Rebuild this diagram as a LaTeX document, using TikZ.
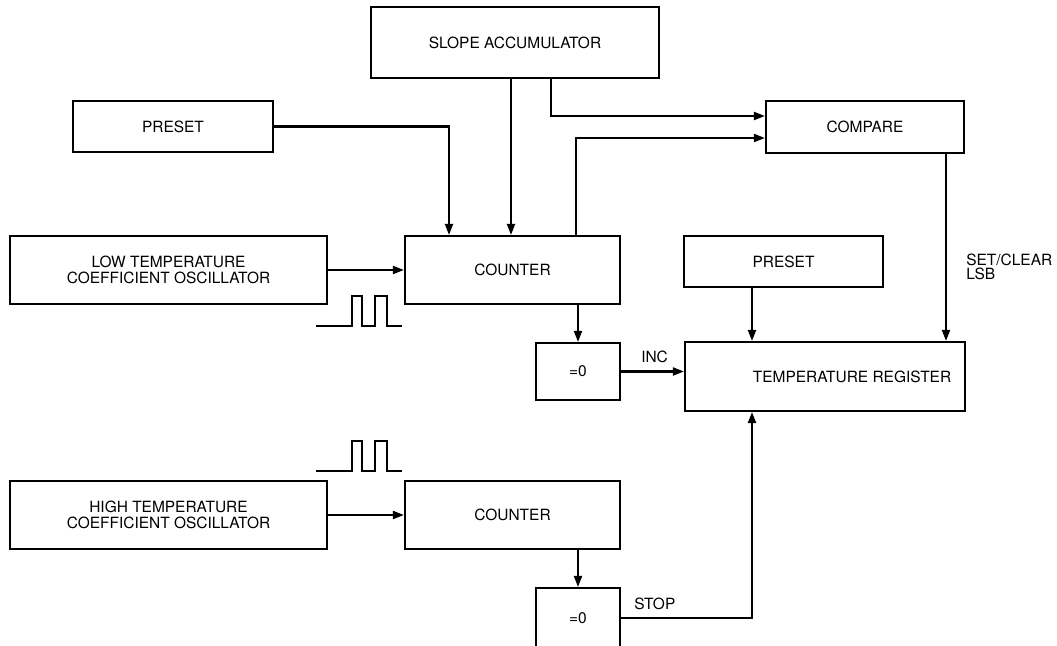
\documentclass[tikz,border=0pt]{standalone}
\usepackage{fontspec}
\setmainfont{TeX Gyre Heros}
\usetikzlibrary{arrows.meta,calc}
\tikzset{
 block/.style={draw,line width=1.4pt,inner sep=0,align=center,font=\fontsize{11}{11.5}\selectfont},
 wire/.style={line width=1.6pt,-{Triangle[length=2.8mm,width=2mm]}},
 pulse/.style={line width=.8pt},
 tag/.style={inner sep=0,font=\fontsize{11}{9.5}\selectfont,align=left}
}
\begin{document}
\begin{tikzpicture}[x=0.025cm,y=-0.025cm]
\path[use as bounding box] (0,0) rectangle (1057,645);
% blocks
\node[block,minimum width=7.2cm,minimum height=1.775cm] (slope) at (515,42.5) {SLOPE ACCUMULATOR};
\node[block,minimum width=5cm,minimum height=1.275cm] (preA) at (173,126.5) {PRESET};
\node[block,minimum width=4.95cm,minimum height=1.3cm] (cmp) at (865,127) {COMPARE};
\node[block,minimum width=7.925cm,minimum height=1.7cm] (oscL) at (168.5,270) {LOW TEMPERATURE\\COEFFICIENT OSCILLATOR};
\node[block,minimum width=5.375cm,minimum height=1.7cm] (cntA) at (512.5,270) {COUNTER};
\node[block,minimum width=4.975cm,minimum height=1.275cm] (preB) at (783.5,261.5) {PRESET};
\node[block,minimum width=2.1cm,minimum height=1.425cm] (zeroA) at (578,371.5) {=0};
\node[block,minimum width=7cm,minimum height=1.725cm] (reg) at (825,376.5) {};
\node[block,draw=none] (regtext) at ($(reg.center)+(27,0)$) {TEMPERATURE REGISTER};
\node[block,minimum width=7.925cm,minimum height=1.7cm] (oscH) at (168.5,515) {HIGH TEMPERATURE\\COEFFICIENT OSCILLATOR};
\node[block,minimum width=5.375cm,minimum height=1.7cm] (cntB) at (512.5,515) {COUNTER};
\node[block,minimum width=2.1cm,minimum height=1.5cm] (zeroB) at (578,618) {=0};
% tap points
\coordinate (sa1) at ($(slope.south west)+(141,0)$);
\coordinate (sa2) at ($(slope.south west)+(181,0)$);
\coordinate (ca1) at ($(cntA.north west)+(172,0)$);
\coordinate (pa1) at ($(cntA.north west)+(45,0)$);
\coordinate (pb1) at ($(preB.south west)+(69,0)$);
\coordinate (cm1) at ($(cmp.south west)+(181,0)$);
\coordinate (rg1) at ($(reg.south west)+(68,0)$);
% connections
\draw[wire] (preA.east) -| (pa1);
\draw[wire] (sa1) -- (sa1 |- cntA.north);
\draw[wire] (sa2) |- ($(cmp.west)+(0,-11)$);
\draw[wire] (ca1) |- ($(cmp.west)+(0,11)$);
\draw[wire] (oscL) -- (cntA);
\draw[wire] (zeroA.north |- cntA.south) -- (zeroA.north);
\draw[wire] (zeroA.east) -- (zeroA.east -| reg.west);
\draw[wire] (pb1) -- (pb1 |- reg.north);
\draw[wire] (cm1) -- (cm1 |- reg.north);
\draw[wire] (oscH) -- (cntB);
\draw[wire] (zeroB.north |- cntB.south) -- (zeroB.north);
\draw[wire] (zeroB.east) -| (rg1);
% labels
\node[tag,anchor=south west] (inc) at ($(zeroA.east)+(20,-8.5)$) {INC};
\node[tag,anchor=south west] (stop) at ($(zeroB.east)+(13,-8)$) {STOP};
\node[tag,anchor=north west] (setclr) at (966,254) {SET/CLEAR\\LSB};
% clock pulses
\draw[pulse] (316,326) -- (352,326) -- (352,296) -- (362,296) -- (362,326) -- (375,326) -- (375,296) -- (387,296) -- (387,326) -- (402,326);
\draw[pulse] (316,471) -- (352,471) -- (352,441) -- (362,441) -- (362,471) -- (375,471) -- (375,441) -- (387,441) -- (387,471) -- (402,471);
\end{tikzpicture}
\end{document}
